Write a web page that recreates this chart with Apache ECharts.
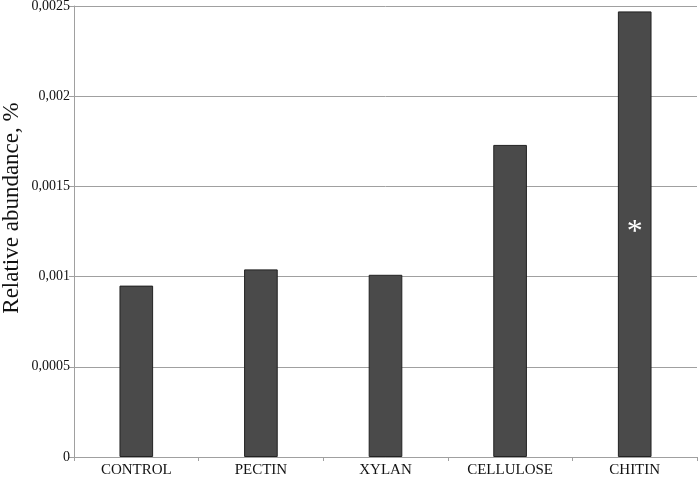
<!DOCTYPE html>
<html>
<head>
<meta charset="utf-8">
<script src="https://cdn.jsdelivr.net/npm/echarts@6/dist/echarts.min.js"></script>
<style>
  html, body { margin: 0; padding: 0; background: #fff; }
  #main { width: 700px; height: 477px; }
</style>
</head>
<body>
<div id="main"></div>
<script>
// substrates and abundance values
let categories = ['CONTROL', 'PECTIN', 'XYLAN', 'CELLULOSE', 'CHITIN'];
let abundance = [0.00095, 0.00104, 0.00101, 0.00173, 0.00247];
let marks = ['', '', '', '', '*'];
let yTitle = 'Relative abundance, %';

let font = '"Liberation Serif", "DejaVu Serif", serif';

function commaNum(v) {
    return v.toString().replace('.', ',');
}

let myChart = echarts.init(document.getElementById('main'));
let option = {
    backgroundColor: 'white',
    animation: false,
    grid: { left: 74, right: 3, top: 6, bottom: 20, outerBoundsMode: 'none', containLabel: false },
    graphic: [{
        type: 'text',
        x: 12,
        y: 208,
        rotation: Math.PI / 2,
        style: {
            text: yTitle,
            fill: '#111',
            font: '23px ' + font,
            align: 'center',
            verticalAlign: 'middle'
        }
    }],
    xAxis: {
        type: 'category',
        data: categories,
        axisLine: { lineStyle: { color: '#a0a0a0' } },
        axisTick: { show: true, length: 4, lineStyle: { color: '#a0a0a0' } },
        axisLabel: { color: '#111', fontFamily: font, fontSize: 15, margin: 6 }
    },
    yAxis: {
        type: 'value',
        min: 0,
        max: 0.0025,
        interval: 0.0005,
        axisLine: { show: true, lineStyle: { color: '#a0a0a0' } },
        axisTick: { show: true, length: 5, lineStyle: { color: '#a0a0a0' } },
        axisLabel: { color: '#111', fontFamily: font, fontSize: 14, margin: 4, formatter: commaNum },
        splitLine: { lineStyle: { color: '#a0a0a0' } }
    },
    series: [{
        type: 'bar',
        barWidth: '27%',
        data: abundance.map((v, i) => ({
            value: v,
            label: {
                show: marks[i] !== '',
                position: 'inside',
                formatter: marks[i],
                color: '#fff',
                fontSize: 32,
                fontFamily: font,
                offset: [0, -2]
            }
        })),
        itemStyle: { color: '#4a4a4a', borderColor: '#222', borderWidth: 1 }
    }]
};
myChart.setOption(option);
</script>
</body>
</html>
